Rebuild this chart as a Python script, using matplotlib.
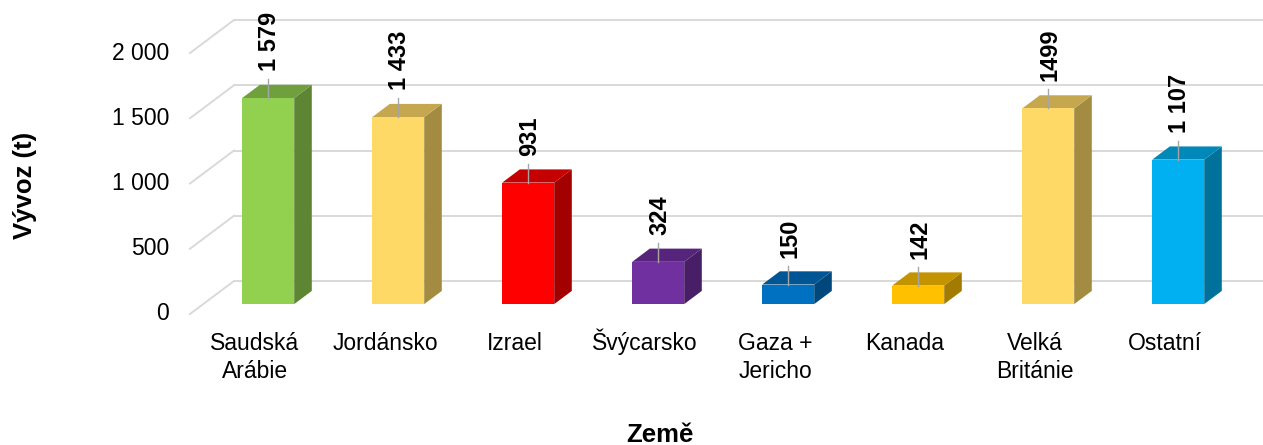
import numpy as np
import matplotlib.pyplot as plt
from matplotlib.patches import Polygon
from matplotlib.colors import to_rgb

# Data
countries = ['Saudská\nArábie', 'Jordánsko', 'Izrael', 'Švýcarsko',
             'Gaza +\nJericho', 'Kanada', 'Velká\nBritánie', 'Ostatní']
export_t = [1579, 1433, 931, 324, 150, 142, 1499, 1107]
value_labels = ['1 579', '1 433', '931', '324', '150', '142', '1499', '1 107']
bar_colors = ['#92D050', '#FFD966', '#FF0000', '#7030A0',
              '#0070C0', '#FFC000', '#FFD966', '#00B0F0']
y_ticks = [0, 500, 1000, 1500, 2000]
y_ticklabels = ['0', '500', '1 000', '1 500', '2 000']

# Layout (pixels of the 1263x445 picture)
W, H = 1263, 445
SLOT_PX = 130.0     # distance between categories
X0_PX = 255.0       # first category, front plane
Y0_PX = 314.0       # value 0, front plane
PX_PER_T = 0.1305   # pixels per tonne

fig = plt.figure(figsize=(W / 100, H / 100), dpi=100)
ax = fig.add_axes([0, 0, 1, 1])
ax.set_xlim(-X0_PX / SLOT_PX, (W - X0_PX) / SLOT_PX)
ax.set_ylim((Y0_PX - H) / PX_PER_T, Y0_PX / PX_PER_T)
ax.axis('off')

# oblique depth of the whole chart in data units
DX = 44 / SLOT_PX
DY = 33 / PX_PER_T
bar_w = 0.4
d_front, d_back = 0.3, 0.7

plt.rcParams['font.family'] = ['Liberation Sans', 'DejaVu Sans']
grid_col = '#D9D9D9'
x_left = -0.5
x_right = len(countries) - 0.5

# walls / gridlines
for v, lab in zip(y_ticks, y_ticklabels):
    ax.plot([x_left, x_left + DX], [v, v + DY], color=grid_col, lw=1.4, zorder=1)
    ax.plot([x_left + DX, x_right + DX], [v + DY, v + DY], color=grid_col, lw=1.4, zorder=1)
    ax.text(x_left - 21 / SLOT_PX, v, lab, ha='right', va='center', fontsize=16.5)


def shade(c, f):
    r, g, b = to_rgb(c)
    return (r * f, g * f, b * f)


for i, (v, col, lab) in enumerate(zip(export_t, bar_colors, value_labels)):
    xl = i - bar_w / 2
    xr = i + bar_w / 2
    fx, fy = d_front * DX, d_front * DY
    bx, by = d_back * DX, d_back * DY
    front = [(xl + fx, fy), (xr + fx, fy), (xr + fx, v + fy), (xl + fx, v + fy)]
    side = [(xr + fx, fy), (xr + bx, by), (xr + bx, v + by), (xr + fx, v + fy)]
    top = [(xl + fx, v + fy), (xr + fx, v + fy), (xr + bx, v + by), (xl + bx, v + by)]
    ax.add_patch(Polygon(side, closed=True, fc=shade(col, 0.64), ec='none', zorder=2))
    ax.add_patch(Polygon(top, closed=True, fc=shade(col, 0.77), ec='none', zorder=2))
    ax.add_patch(Polygon(front, closed=True, fc=col, ec='none', zorder=3))

    # leader line and value label
    cx = i + fx
    ax.plot([cx, cx], [v + fy, v + fy + 19 / PX_PER_T], color='#A6A6A6', lw=1.0, zorder=4)
    ax.text(cx + 0.01, v + fy + 27 / PX_PER_T, lab, rotation=90, ha='center', va='bottom',
            fontsize=17, fontweight='bold', zorder=5)

# category labels, one line at a time on fixed baselines
for i, name in enumerate(countries):
    for k, line in enumerate(name.split('\n')):
        ax.text(i, (Y0_PX - 350 - 28 * k) / PX_PER_T, line,
                ha='center', va='baseline', fontsize=16.5)

# axis titles
ax.text((25 - X0_PX) / SLOT_PX, (Y0_PX - 185) / PX_PER_T, 'Vývoz (t)', rotation=90,
        ha='center', va='center', fontsize=18.5, fontweight='bold')
ax.text((660 - X0_PX) / SLOT_PX, (Y0_PX - 435) / PX_PER_T, 'Země',
        ha='center', va='center', fontsize=18.5, fontweight='bold')

fig.savefig('out.png', dpi=100)
